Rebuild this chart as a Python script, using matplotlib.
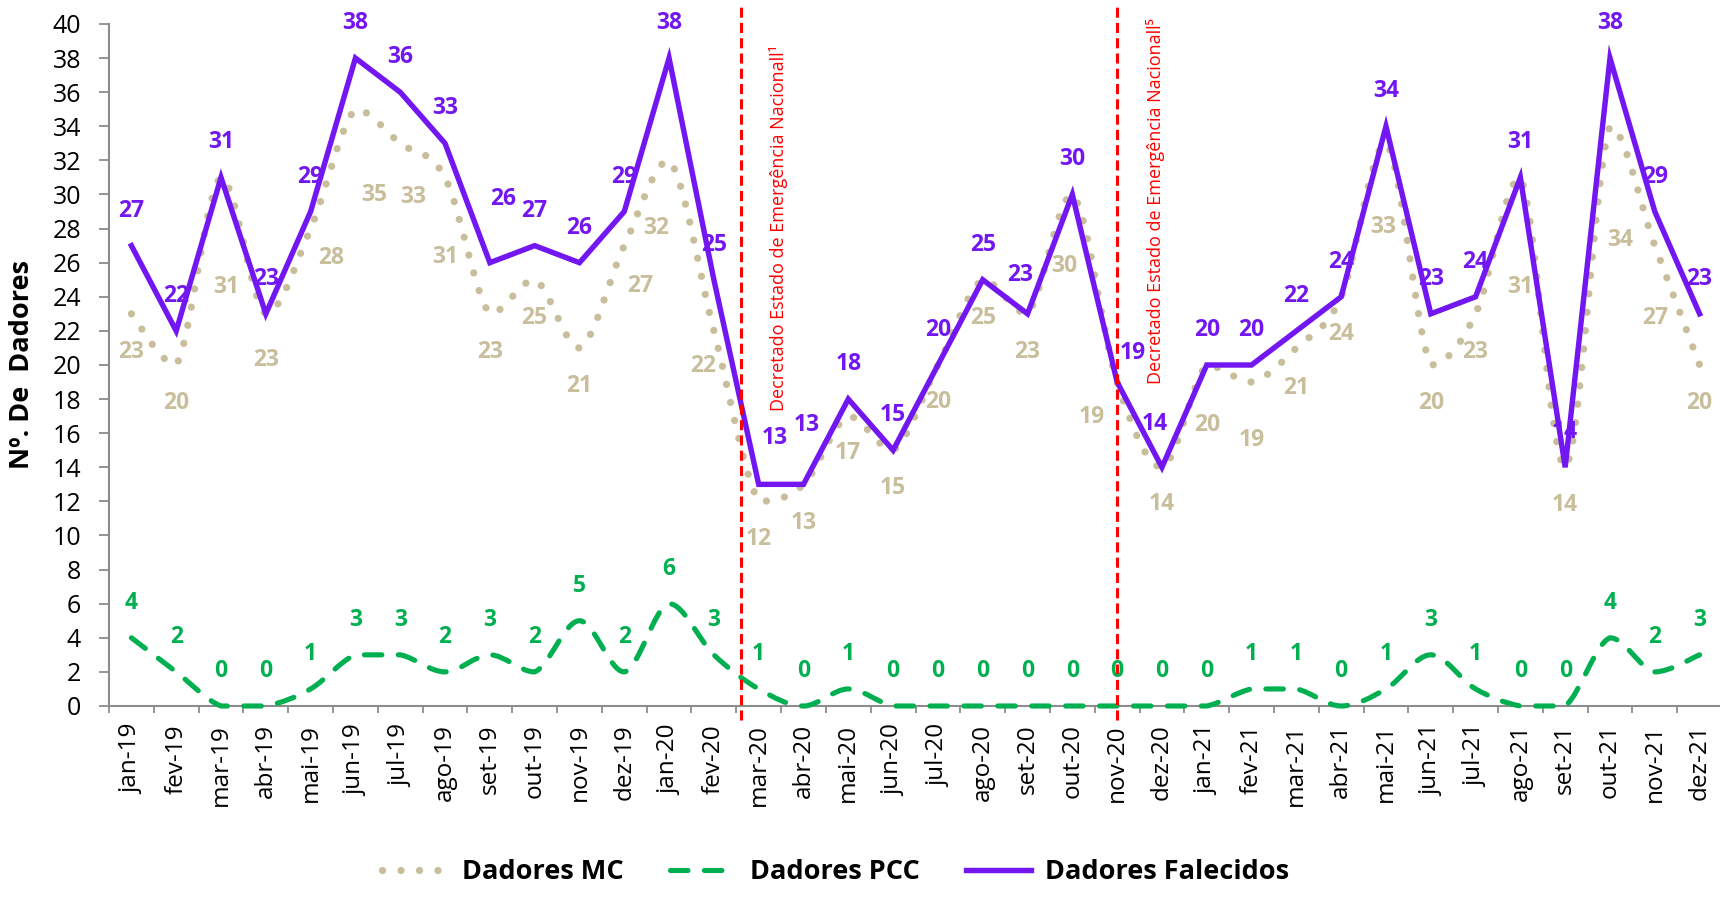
import matplotlib
matplotlib.use("Agg")
import matplotlib.pyplot as plt
from matplotlib.path import Path
from matplotlib.patches import PathPatch
from matplotlib.lines import Line2D

# ---------------- data ----------------
months = ["jan-19", "fev-19", "mar-19", "abr-19", "mai-19", "jun-19", "jul-19", "ago-19",
          "set-19", "out-19", "nov-19", "dez-19", "jan-20", "fev-20", "mar-20", "abr-20",
          "mai-20", "jun-20", "jul-20", "ago-20", "set-20", "out-20", "nov-20", "dez-20",
          "jan-21", "fev-21", "mar-21", "abr-21", "mai-21", "jun-21", "jul-21", "ago-21",
          "set-21", "out-21", "nov-21", "dez-21"]
dadores_mc = [23, 20, 31, 23, 28, 35, 33, 31, 23, 25, 21, 27,
              32, 22, 12, 13, 17, 15, 20, 25, 23, 30, 19, 14,
              20, 19, 21, 24, 33, 20, 23, 31, 14, 34, 27, 20]
dadores_pcc = [4, 2, 0, 0, 1, 3, 3, 2, 3, 2, 5, 2,
               6, 3, 1, 0, 1, 0, 0, 0, 0, 0, 0, 0,
               0, 1, 1, 0, 1, 3, 1, 0, 0, 4, 2, 3]
dadores_falecidos = [27, 22, 31, 23, 29, 38, 36, 33, 26, 27, 26, 29,
                     38, 25, 13, 13, 18, 15, 20, 25, 23, 30, 19, 14,
                     20, 20, 22, 24, 34, 23, 24, 31, 14, 38, 29, 23]
series_names = ["Dadores MC", "Dadores PCC", "Dadores Falecidos"]
events = [13.6, 22.0]
event_labels = ["Decretado Estado de Emergência Nacionall¹",
                "Decretado Estado de Emergência Nacionall⁵"]
y_ticks = list(range(0, 41, 2))

# ---------------- styles ----------------
C_MC = "#C9BE9B"
C_PCC = "#00B050"
C_FAL = "#7216F2"
C_RED = "#FF0000"
FONT = ["Open Sans", "DejaVu Sans"]
plt.rcParams["font.family"] = FONT

# label offsets in pixels (dx, distance from point)
mc_off = [(0, 38), (0, 38), (5, 110), (0, 46), (21, 29), (19, 86), (13, 54), (0, 80),
          (0, 38), (0, 38), (0, 38), (16, 40), (-13, 68), (-11, 35), (0, 38), (0, 39),
          (0, 37), (0, 38), (0, 37), (0, 38), (0, 38), (-8, 72), (-25, 35), (0, 37),
          (0, 60), (0, 58), (0, 40), (0, 37), (-3, 84), (0, 38), (0, 38), (0, 110),
          (0, 38), (10, 114), (0, 72), (0, 38)]
fal_off = [(0, 35)] * len(months)
fal_off = list(fal_off)
fal_off[8] = (13, 64)
fal_off[14] = (16, 46)
fal_off[15] = (3, 59)
fal_off[20] = (-7, 39)
fal_off[22] = (16, 29)
fal_off[23] = (-7, 43)

fig = plt.figure(figsize=(17.2, 9.15), dpi=100)
ax = fig.add_axes([0.06337, 0.22842, 0.9378, 0.74536])

x = list(range(len(months)))


def smooth_path(xs, ys, k=6.0):
    verts = [(xs[0], ys[0])]
    codes = [Path.MOVETO]
    n = len(xs)
    for i in range(n - 1):
        a = i - 1 if i > 0 else i
        d = i + 2 if i + 2 < n else i + 1
        lo, hi = min(ys[i], ys[i + 1]), max(ys[i], ys[i + 1])
        c1y = min(max(ys[i] + (ys[i + 1] - ys[a]) / k, lo), hi)
        c2y = min(max(ys[i + 1] - (ys[d] - ys[i]) / k, lo), hi)
        c1 = (xs[i] + (xs[i + 1] - xs[a]) / k, c1y)
        c2 = (xs[i + 1] - (xs[d] - xs[i]) / k, c2y)
        verts += [c1, c2, (xs[i + 1], ys[i + 1])]
        codes += [Path.CURVE4] * 3
    return Path(verts, codes)


MC_LW, MC_LS = 5.2, (0, (0.01, 2.55))
PCC_LW, PCC_LS = 3.7, (0, (3.4, 3.2))

p_mc = PathPatch(smooth_path(x, dadores_mc), fill=False, edgecolor=C_MC, lw=MC_LW,
                 linestyle=MC_LS, capstyle="round", zorder=3, clip_on=False)
ax.add_patch(p_mc)
p_pcc = PathPatch(smooth_path(x, dadores_pcc), fill=False, edgecolor=C_PCC, lw=PCC_LW,
                  linestyle=PCC_LS, capstyle="round", zorder=3, clip_on=False)
ax.add_patch(p_pcc)
ax.plot(x, dadores_falecidos, color=C_FAL, lw=3.9, solid_joinstyle="miter", zorder=4,
        clip_on=False)

# event lines
for ev, lab, yb in zip(events, event_labels, [17.3, 18.9]):
    ax.plot([ev, ev], [-0.85, 41.0], color=C_RED, lw=2.2, ls=(0, (3.3, 1.7)),
            zorder=5, clip_on=False)
    ax.text(ev + 0.85, yb, lab, rotation=90, color=C_RED,
            fontsize=13, ha="center", va="bottom", zorder=6)

# data labels
lab_fs = 16.5
for i, v in enumerate(dadores_mc):
    dx, dy = mc_off[i]
    ax.annotate(str(v), (i, v), xytext=(dx, -dy), textcoords="offset pixels",
                ha="center", va="center", color=C_MC, fontsize=lab_fs,
                fontweight="bold", zorder=7, annotation_clip=False)
for i, v in enumerate(dadores_pcc):
    ax.annotate(str(v), (i, v), xytext=(0, 35), textcoords="offset pixels",
                ha="center", va="center", color=C_PCC, fontsize=lab_fs,
                fontweight="bold", zorder=7, annotation_clip=False)
for i, v in enumerate(dadores_falecidos):
    dx, dy = fal_off[i]
    ax.annotate(str(v), (i, v), xytext=(dx, dy), textcoords="offset pixels",
                ha="center", va="center", color=C_FAL, fontsize=lab_fs,
                fontweight="bold", zorder=7, annotation_clip=False)

# axes
ax.set_xlim(-0.5, len(months) - 0.5)
ax.set_ylim(0, 40)
ax.set_yticks(y_ticks)
ax.set_yticklabels([str(t) for t in y_ticks], fontsize=18)
ax.set_xticks([i - 0.5 for i in range(len(months) + 1)])
ax.set_xticklabels([])
ax.set_xticks(x, minor=True)
ax.set_xticklabels(months, minor=True, rotation=90, fontsize=17.5)
ax.tick_params(axis="x", which="major", length=5, width=1.3, color="#8C8C8C", direction="out")
ax.tick_params(axis="x", which="minor", length=0, pad=13)
ax.tick_params(axis="y", length=7, width=1.3, color="#8C8C8C", direction="out", pad=13)
for s in ["top", "right"]:
    ax.spines[s].set_visible(False)
for s in ["left", "bottom"]:
    ax.spines[s].set_color("#8C8C8C")
    ax.spines[s].set_linewidth(1.5)
ax.spines["bottom"].set_zorder(2)

ax.set_ylabel("Nº. De  Dadores", fontsize=19.5, fontweight="bold")
ax.yaxis.set_label_coords(-0.046, 0.5)

# legend
handles = [Line2D([], [], color=C_MC, lw=MC_LW, ls=MC_LS, dash_capstyle="round"),
           Line2D([], [], color=C_PCC, lw=PCC_LW, ls=PCC_LS, dash_capstyle="round"),
           Line2D([], [], color=C_FAL, lw=3.9)]
fig.legend(handles, series_names, loc="center", bbox_to_anchor=(0.486, 0.047), ncol=3,
           frameon=False, prop=dict(family=FONT, weight="bold", size=19.5),
           handlelength=2.4, handletextpad=0.55, columnspacing=1.7)

fig.savefig("out.png", dpi=100)
